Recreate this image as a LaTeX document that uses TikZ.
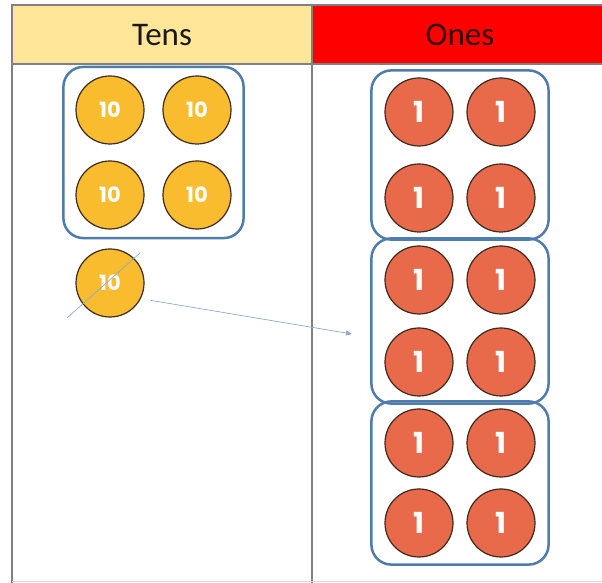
\documentclass[tikz,border=0pt]{standalone}
\usepackage{fontspec}
\setmainfont{Carlito}
\newfontfamily\coinfont{Poppins}
\usepackage{tikz}
\usetikzlibrary{fit,arrows.meta}
\definecolor{tensfill}{HTML}{FFE699}
\definecolor{onesfill}{HTML}{FF0000}
\definecolor{tensgold}{HTML}{F9BC2E}
\definecolor{onesred}{HTML}{E9694B}
\definecolor{coinline}{HTML}{3B2A1E}
\definecolor{boxblue}{HTML}{4F7CAA}
\definecolor{moveblue}{HTML}{8EA9D0}
\definecolor{gridgray}{HTML}{808080}
\newcommand{\headfont}{\fontsize{33}{33}\selectfont}

\begin{document}
\begin{tikzpicture}[x=1pt,y=1pt,
		coin/.style={circle,draw=coinline,line width=1.2pt,minimum size=68pt,inner sep=0pt,text=white},
		tencoin/.style={coin,fill=tensgold,font=\coinfont\bfseries\fontsize{21}{21}\selectfont},
		onecoin/.style={coin,fill=onesred,font=\coinfont\bfseries\fontsize{29}{29}\selectfont},
		groupbox/.style={draw=boxblue,line width=2.5pt,rounded corners=20pt,inner xsep=13pt,inner ysep=7pt},
		moveline/.style={draw=moveblue,line width=0.7pt},
		gridline/.style={draw=gridgray,line width=1.4pt}]
		\useasboundingbox (0,0) rectangle (602,583);
		% Header
		\fill[tensfill] (12,519) rectangle (312,578);
		\fill[onesfill] (312,519) rectangle (602,578);
		\draw[gridline] (602,578) -- (12,578) -- (12,0);
		\draw[gridline] (12,519) -- (602,519);
		\draw[gridline] (312,578) -- (312,0);
		\draw[gray!30,line width=1pt] (12,1) -- (602,1);
		\node[font=\headfont,text=black!90] (tenshead) at (162,548) {Tens};
		\node[font=\headfont,text=black!80!red] (oneshead) at (460,548) {Ones};
		% Tens
		\node[tencoin] (t1) at (110,473) {10};
		\node[tencoin] (t2) at (197,473) {10};
		\node[tencoin] (t3) at (110,388) {10};
		\node[tencoin] (t4) at (197,388) {10};
		\node[groupbox,inner xsep=12pt,inner ysep=8.5pt,fit=(t1)(t4)] (tengroup) {};
		\node[tencoin] (t5) at (110,300) {10};
		\draw[moveline] (t5) ++(-43,-35) -- ++(73,65);
		% Ones
		\foreach \r/\y in {1/471,2/385,3/303,4/221,5/140,6/60}{
			\node[onecoin] (o\r a) at (419,\y) {1};
			\node[onecoin] (o\r b) at (501,\y) {1};
		}
		\node[groupbox,fit=(o1a)(o2b)] (onegroup1) {};
		\node[groupbox,fit=(o3a)(o4b)] (onegroup2) {};
		\node[groupbox,fit=(o5a)(o6b)] (onegroup3) {};
		% New
		\coordinate (drop) at (352,249);
		\draw[moveline,-{Triangle[length=6pt,width=5pt]},shorten <=10pt] (t5.-27) -- (drop);
	\end{tikzpicture}
\end{document}
